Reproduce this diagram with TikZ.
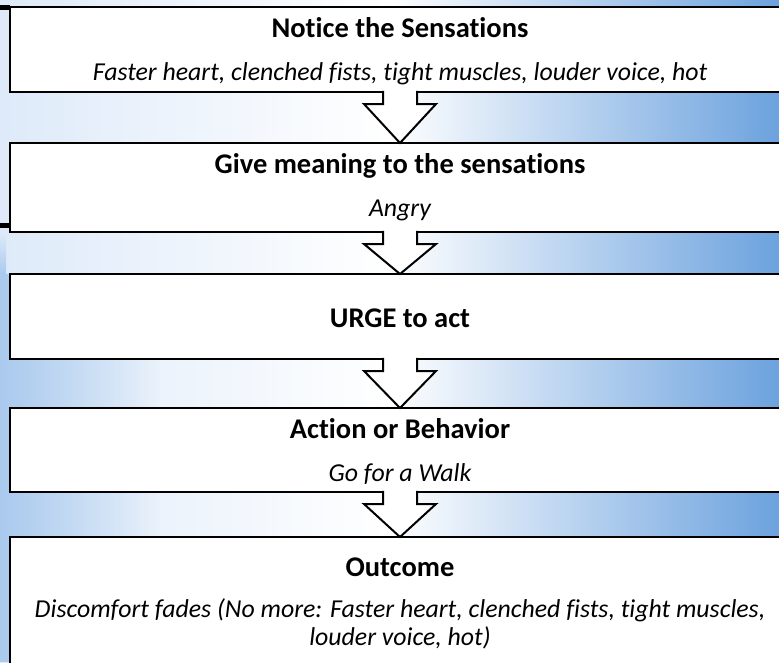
\documentclass[tikz,border=0pt]{standalone}
\usepackage{fontspec}
\setmainfont[Ligatures=NoCommon]{Carlito}
\usetikzlibrary{calc,fadings}
\definecolor{bgL}{RGB}{222,234,249}
\definecolor{bgL2}{RGB}{170,202,238}
\definecolor{bgR}{RGB}{108,162,222}
\begin{document}
\begin{tikzpicture}[x=1pt,y=-1pt,
  stepbox/.style={draw=black,line width=2.4pt,fill=white,minimum width=780pt,inner sep=0pt,outer sep=0pt},
  ttl/.style={font=\fontsize{28.5}{32}\selectfont\bfseries,inner sep=0pt,anchor=base},
  sub/.style={font=\fontsize{25.8}{30}\selectfont\itshape,inner sep=0pt,anchor=base},
  arrowline/.style={draw=black,line width=2pt,line join=miter}]
\useasboundingbox (0,0) rectangle (779,662);
\clip (0,0) rectangle (779,662);
\shade[left color=bgL, right color=bgR, middle color=white] (0,0) rectangle (779,662);
\shade[top color=bgL, bottom color=bgL2] (0,232) rectangle (6,274);
\fill[bgL2, path fading=east] (0,274) rectangle (160,662);
% boxes
\node[stepbox,minimum height=85pt] (b1) at (400,49.5) {};
\node[stepbox,minimum height=89pt] (b2) at (400,187.5) {};
\node[stepbox,minimum height=85pt] (b3) at (400,316.5) {};
\node[stepbox,minimum height=84pt] (b4) at (400,450) {};
\node[stepbox,minimum height=163pt] (b5) at (400,618.5) {};
% left marks
\fill (0,5) rectangle (10,10);
\fill (0,223) rectangle (10,228);
% arrows
\foreach \a/\b in {b1/b2,b2/b3,b3/b4,b4/b5}{
  \fill[white] ($(\a.south)+(-17,-1.6)$) -- ($(\a.south)+(-17,12)$) -- ($(\a.south)+(-36,12)$) -- (\b.north) -- ($(\a.south)+(36,12)$) -- ($(\a.south)+(17,12)$) -- ($(\a.south)+(17,-1.6)$) -- cycle;
  \draw[arrowline] ($(\a.south)+(-17,-1.2)$) -- ($(\a.south)+(-17,12)$) -- ($(\a.south)+(-36,12)$) -- (\b.north) -- ($(\a.south)+(36,12)$) -- ($(\a.south)+(17,12)$) -- ($(\a.south)+(17,-1.2)$);
}
% texts
\node[ttl] (t1) at (400,37) {Notice the Sensations};
\node[sub] (s1) at (400,80) {Faster heart, clenched fists, tight muscles, louder voice, hot};
\node[ttl] (t2) at (400,173) {Give meaning to the sensations};
\node[sub] (s2) at (400,216) {Angry};
\node[ttl] (t3) at (400,327) {URGE to act};
\node[ttl] (t4) at (400,438) {Action or Behavior};
\node[sub] (s4) at (400,481) {Go for a Walk};
\node[ttl] (t5) at (400,576) {Outcome};
\node[sub] (s5a) at (400,617) {Discomfort fades (No more: Faster heart, clenched fists, tight muscles,};
\node[sub] (s5b) at (400,645) {louder voice, hot)};
\end{tikzpicture}
\end{document}
